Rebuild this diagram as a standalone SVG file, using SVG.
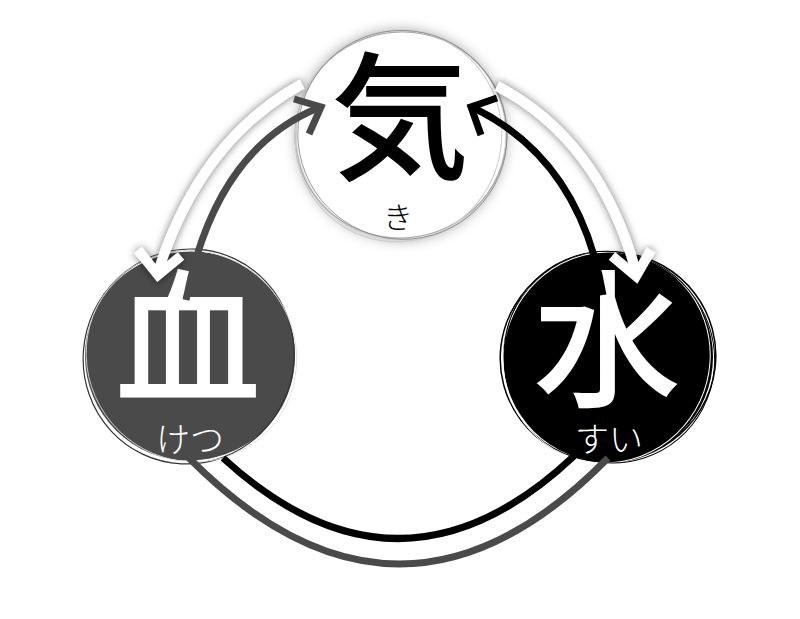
<svg xmlns="http://www.w3.org/2000/svg" width="800" height="619" viewBox="0 0 800 619">
<defs>
<filter id="glow" x="-30%" y="-30%" width="160%" height="160%"><feDropShadow dx="0" dy="0" stdDeviation="7" flood-color="#000" flood-opacity="0.4"/></filter>
<filter id="soft" x="-30%" y="-30%" width="160%" height="160%"><feDropShadow dx="0" dy="0" stdDeviation="4" flood-color="#000" flood-opacity="0.55"/></filter>
</defs>
<style>
.kanji{font-family:"Noto Sans CJK JP","Noto Sans CJK SC",sans-serif;text-anchor:middle;font-weight:500}
.kana{font-family:"Noto Sans CJK JP","Noto Sans CJK SC",sans-serif;text-anchor:middle;font-weight:300}
.ring{fill:none}
.wline{fill:none;stroke:#fff;stroke-width:10}
.wline2{fill:none;stroke:#fff;stroke-width:10;stroke-linejoin:miter;stroke-miterlimit:10}
.gline{fill:none;stroke:#4a4a4a;stroke-width:7;stroke-linejoin:miter;stroke-miterlimit:10}
.bline{fill:none;stroke:#000;stroke-width:7;stroke-linejoin:miter;stroke-miterlimit:10}
</style>
<rect width="800" height="619" fill="#fff"/>
<g id="ki">
<circle cx="401" cy="135" r="104" fill="#fff" filter="url(#glow)"/>
<ellipse class="ring" cx="401" cy="135" rx="106" ry="103" stroke="#aaa" stroke-width="1.2" transform="rotate(-10 401 135)"/>
<ellipse class="ring" cx="399" cy="137" rx="103" ry="106" stroke="#ccc" stroke-width="1" transform="rotate(20 401 135)"/>
<ellipse class="ring" cx="402" cy="134" rx="105" ry="104" stroke="#888" stroke-width="0.8" transform="rotate(40 401 135)"/>
<text class="kanji" x="400" y="168" font-size="138" fill="#000">気</text>
<text class="kana" x="398" y="228" font-size="30" fill="#000">き</text>
</g>
<g id="ketsu">
<circle cx="190" cy="356" r="105" fill="#4a4a4a"/>
<ellipse class="ring" cx="190" cy="356" rx="108" ry="105" stroke="#fff" stroke-width="1.2" transform="rotate(-15 190 356)"/>
<ellipse class="ring" cx="189" cy="357" rx="105" ry="108" stroke="#333" stroke-width="1.2" transform="rotate(25 190 356)"/>
<ellipse class="ring" cx="191" cy="355" rx="107" ry="104" stroke="#ddd" stroke-width="0.8" transform="rotate(50 190 356)"/>
<text class="kanji" x="188" y="392" font-size="146" fill="#fff">血</text>
<text class="kana" x="190" y="452" font-size="34" fill="#fff">けつ</text>
</g>
<g id="sui">
<circle cx="608" cy="357" r="105" fill="#000"/>
<ellipse class="ring" cx="608" cy="357" rx="108" ry="105" stroke="#000" stroke-width="1.5" transform="rotate(-15 608 357)"/>
<ellipse class="ring" cx="607" cy="358" rx="103" ry="106" stroke="#fff" stroke-width="1" transform="rotate(25 608 357)"/>
<ellipse class="ring" cx="609" cy="356" rx="107" ry="104" stroke="#000" stroke-width="1" transform="rotate(50 608 357)"/>
<text class="kanji" x="607" y="395" font-size="148" fill="#fff">水</text>
<text class="kana" x="609" y="452" font-size="34" fill="#fff">すい</text>
</g>
<g id="connectors">
<g filter="url(#soft)">
<path class="wline" d="M 302 84 Q 200 140 158 272"/>
<polyline class="wline2" points="138,250 158,275 181,256"/>
<path class="wline" d="M 497 86 Q 600 140 636 272"/>
<polyline class="wline2" points="612,256 636,276 651,250"/>
</g>
<path class="gline" d="M 186 300 Q 215 150 318 108"/>
<polyline class="gline" stroke-width="9" points="294,99 321,107 309,134"/>
<path class="bline" d="M 603 295 Q 580 160 474 108"/>
<polyline class="bline" stroke-width="9" points="497,98 471,107 481,135"/>
<path class="bline" stroke-width="6" d="M 223 458 Q 400 620 574 456"/>
<path class="gline" d="M 189 458 Q 400 670 608 458"/>
</g>
</svg>
